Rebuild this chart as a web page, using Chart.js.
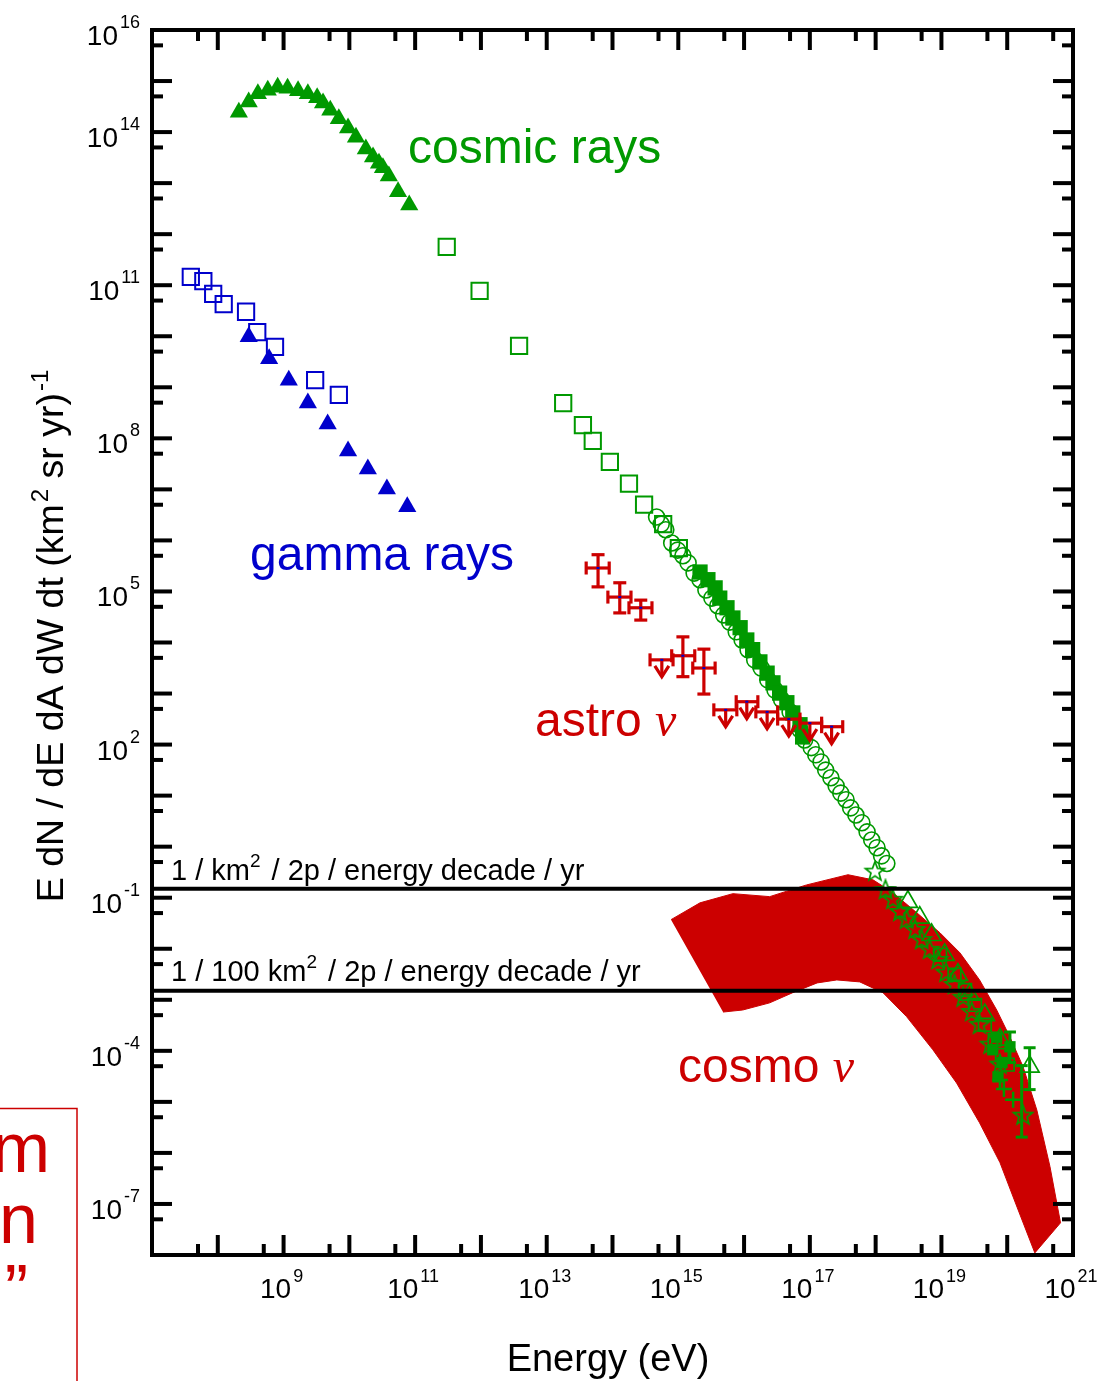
<!DOCTYPE html>
<html><head><meta charset="utf-8">
<script src="https://cdn.jsdelivr.net/npm/chart.js@4.4.1/dist/chart.umd.min.js"></script>
<style>html,body{margin:0;padding:0;background:#fff;}#wrap{position:relative;width:1100px;height:1381px;}</style>
</head><body><div id="wrap"><canvas id="c"></canvas></div>
<script>
// ---------- tick labels ----------
const xTickExps = [9, 11, 13, 15, 17, 19, 21];
const yTickExps = [16, 14, 11, 8, 5, 2, -1, -4, -7];

// ---------- cosmic rays (low energy, filled triangles) ----------
const crTriE = [2.09e8, 2.95e8, 4.07e8, 5.75e8, 8.13e8, 1.15e9, 1.66e9, 2.34e9, 3.24e9, 3.98e9, 5.13e9, 6.92e9, 9.55e9, 1.26e10, 1.78e10, 2.29e10, 2.82e10, 3.24e10, 3.98e10, 5.50e10, 8.13e10];
const crTriF = [2.45e14, 3.89e14, 5.62e14, 6.61e14, 7.59e14, 7.24e14, 6.46e14, 5.62e14, 4.68e14, 3.72e14, 2.69e14, 1.82e14, 1.20e14, 7.94e13, 4.68e13, 3.24e13, 2.45e13, 2.00e13, 1.38e13, 6.76e12, 3.72e12];
// open squares
const crSqE = [3.02e11, 9.55e11, 3.80e12, 1.78e13, 3.55e13, 5.01e13, 9.12e13, 1.78e14, 3.02e14, 5.89e14, 1.02e15];
const crSqF = [5.62e11, 7.76e10, 6.46e9, 4.90e8, 1.82e8, 8.91e7, 3.47e7, 1.29e7, 5.01e6, 2.09e6, 7.08e5];
// open circles
const crCircE = [4.68e14, 5.50e14, 6.46e14, 7.94e14, 9.77e14, 1.175e15, 1.41e15, 1.74e15, 2.14e15, 2.63e15, 3.24e15, 3.98e15, 4.90e15, 6.03e15, 7.59e15, 9.33e15, 1.15e16, 1.45e16, 1.82e16, 2.29e16, 2.95e16, 3.72e16, 5.01e16, 7.08e16, 8.32e16, 1.05e17, 1.23e17, 1.48e17, 1.74e17, 2.09e17, 2.51e17, 2.95e17, 3.55e17, 4.17e17, 5.01e17, 6.17e17, 7.41e17, 8.71e17, 1.05e18, 1.23e18, 1.48e18];
const crCircF = [2.88e6, 2.09e6, 1.62e6, 8.91e5, 6.46e5, 5.01e5, 3.63e5, 2.29e5, 1.70e5, 1.07e5, 7.41e4, 5.25e4, 3.47e4, 2.51e4, 1.62e4, 1.12e4, 7.24e3, 4.57e3, 3.16e3, 1.86e3, 1.17e3, 759, 437, 195, 123, 87.1, 63.1, 45.7, 31.6, 22.4, 15.5, 11.2, 8.32, 5.75, 4.17, 2.95, 1.95, 1.35, 0.955, 0.661, 0.468];
// filled squares
const crFSqE = [2.14e15, 2.82e15, 3.63e15, 4.27e15, 5.50e15, 6.76e15, 8.71e15, 1.10e16, 1.35e16, 1.74e16, 2.24e16, 2.75e16, 3.47e16, 4.47e16, 5.50e16, 7.08e16, 7.76e16];
const crFSqF = [2.40e5, 1.70e5, 1.175e5, 7.41e4, 4.79e4, 3.02e4, 1.95e4, 1.12e4, 7.24e3, 4.17e3, 2.51e3, 1.62e3, 1.02e3, 661, 417, 245, 141];
// highest energies
const uhStarE = [9.77e17, 1.41e18, 1.82e18, 2.34e18, 2.95e18, 3.98e18, 5.01e18, 6.61e18, 8.91e18, 1.175e19, 1.58e19, 2.14e19, 2.88e19, 3.80e19, 5.50e19, 7.76e19, 1.74e20];
const uhStarF = [0.324, 0.141, 9.12e-2, 5.25e-2, 3.72e-2, 2.34e-2, 1.48e-2, 9.55e-3, 6.03e-3, 3.39e-3, 1.95e-3, 1.10e-3, 5.75e-4, 3.24e-4, 1.32e-4, 5.37e-5, 5.37e-6];
const uhTriE = [3.09e18, 4.68e18, 7.08e18, 1.12e19, 1.78e19, 2.69e19, 4.57e19, 7.76e19, 2.19e20];
const uhTriF = [8.32e-2, 4.07e-2, 1.86e-2, 7.59e-3, 3.09e-3, 1.26e-3, 5.01e-4, 1.66e-4, 4.90e-5];
const uhSqE = [9.55e18, 1.58e19, 2.29e19, 3.24e19, 4.57e19, 6.46e19, 8.32e19, 1.02e20];
const uhSqF = [7.59e-3, 3.09e-3, 1.55e-3, 7.94e-4, 3.24e-4, 1.66e-4, 8.32e-5, 5.37e-5];
const uhCrossE = [7.76e19, 1.23e20, 8.91e19];
const uhCrossF = [2.69e-5, 1.10e-5, 1.78e-5];
const uhFSqE = [6.92e19, 6.03e19, 8.32e19, 7.24e19, 1.10e20];
const uhFSqF = [1.86e-4, 1.05e-4, 5.89e-5, 3.09e-5, 1.20e-4];
const uhErrE = [1.10e20, 2.19e20, 1.66e20];
const uhErrLo = [5.89e-5, 1.74e-5, 2.04e-6];
const uhErrHi = [2.34e-4, 1.15e-4, 5.13e-5];

// ---------- gamma rays ----------
const gSqE = [3.89e7, 6.03e7, 8.51e7, 1.23e8, 2.69e8, 3.98e8, 7.41e8, 3.02e9, 6.92e9];
const gSqF = [1.45e11, 1.20e11, 6.76e10, 4.27e10, 3.02e10, 1.20e10, 6.17e9, 1.38e9, 7.08e8];
const gTriE = [2.95e8, 6.03e8, 1.20e9, 2.34e9, 4.68e9, 9.55e9, 1.91e10, 3.72e10, 7.59e10];
const gTriF = [9.77e9, 3.63e9, 1.38e9, 4.90e8, 1.91e8, 5.62e7, 2.51e7, 1.02e7, 4.57e6];

// ---------- astro neutrinos ----------
const astroE = [6.03e13, 1.29e14, 2.69e14, 1.175e15, 2.45e15];
const astroF = [2.88e5, 7.76e4, 4.79e4, 5.50e3, 3.16e3];
const astroElo = [3.98e13, 8.51e13, 1.78e14, 7.94e14, 1.66e15];
const astroEhi = [8.91e13, 1.91e14, 3.98e14, 1.78e15, 3.63e15];
const astroFlo = [1.23e5, 3.80e4, 2.75e4, 2.14e3, 977];
const astroFhi = [5.25e5, 1.48e5, 6.76e4, 1.29e4, 7.41e3];
const ulE = [5.62e14, 5.25e15, 1.10e16, 2.24e16, 4.79e16, 1.0e17, 2.14e17];
const ulF = [4.57e3, 479, 692, 437, 316, 263, 224];
const ulElo = [3.72e14, 3.47e15, 7.59e15, 1.51e16, 3.24e16, 7.08e16, 1.51e17];
const ulEhi = [8.32e14, 7.76e15, 1.62e16, 3.24e16, 7.08e16, 1.51e17, 3.16e17];

// ---------- cosmogenic neutrino band ----------
const bandUpE = [7.76e14, 2.14e15, 6.76e15, 2.45e16, 8.91e16, 3.80e17, 9.12e17, 1.82e18, 4.27e18, 9.55e18, 1.91e19, 3.80e19, 6.92e19, 1.10e20, 1.74e20, 2.82e20, 4.47e20, 6.46e20];
const bandUpF = [3.72e-2, 7.94e-2, 0.120, 0.105, 0.178, 0.282, 0.224, 0.126, 5.01e-2, 2.04e-2, 8.32e-3, 2.45e-3, 6.31e-4, 1.86e-4, 4.90e-5, 6.92e-6, 5.37e-7, 4.27e-8];
const bandLoE = [2.63e20, 1.41e20, 7.76e19, 3.80e19, 1.70e19, 7.41e18, 2.95e18, 1.29e18, 5.75e17, 2.57e17, 1.29e17, 5.50e16, 2.45e16, 9.55e15, 4.79e15];
const bandLoF = [1.10e-8, 8.71e-8, 6.46e-7, 3.89e-6, 2.34e-5, 1.05e-4, 4.68e-4, 1.38e-3, 2.24e-3, 2.45e-3, 2.14e-3, 1.38e-3, 8.71e-4, 6.31e-4, 5.75e-4];

// ---------- reference rate lines ----------
const rateLineE = [1e7, 1e21];
const rate1km2 = [0.15, 0.15];
const rate100km2 = [0.0015, 0.0015];

// ================= build =================
const GREEN = '#009900', BLUE = '#0000CC', RED = '#CC0000';
const FONT = '"Liberation Sans", Arial, sans-serif';
function pts(xs, ys) { return xs.map((x, i) => ({ x: x, y: ys[i] })); }
function makeStar(r, color) {
  const c = document.createElement('canvas');
  const s = Math.ceil(r * 2 + 4); c.width = s; c.height = s;
  const g = c.getContext('2d');
  g.strokeStyle = color; g.lineWidth = 1.7; g.beginPath();
  for (let i = 0; i < 10; i++) {
    const a = -Math.PI / 2 + i * Math.PI / 5, rr = (i % 2) ? r * 0.42 : r;
    g.lineTo(s / 2 + rr * Math.cos(a), s / 2 + rr * Math.sin(a));
  }
  g.closePath(); g.stroke(); return c;
}
const starImg = makeStar(10, GREEN);
const none = 'rgba(0,0,0,0)';

const datasets = [
  { data: pts(rateLineE, rate1km2), showLine: true, borderColor: '#000', borderWidth: 4, pointRadius: 0 },
  { data: pts(rateLineE, rate100km2), showLine: true, borderColor: '#000', borderWidth: 4, pointRadius: 0 },
  { data: pts(gTriE, gTriF), pointStyle: 'triangle', pointRadius: 10.5, backgroundColor: BLUE, borderColor: BLUE, borderWidth: 0 },
  { data: pts(gSqE, gSqF), pointStyle: 'rect', pointRadius: 11.5, backgroundColor: none, borderColor: BLUE, borderWidth: 2 },
  { data: pts(uhCrossE, uhCrossF), pointStyle: 'cross', pointRadius: 8, borderColor: GREEN, borderWidth: 2.5 },
  { data: pts(uhFSqE, uhFSqF), pointStyle: 'rect', pointRadius: 8, backgroundColor: GREEN, borderColor: GREEN, borderWidth: 0 },
  { data: pts(uhSqE, uhSqF), pointStyle: 'rect', pointRadius: 9, backgroundColor: none, borderColor: GREEN, borderWidth: 1.7 },
  { data: pts(uhTriE, uhTriF), pointStyle: 'triangle', pointRadius: 11, backgroundColor: none, borderColor: GREEN, borderWidth: 1.7 },
  { data: pts(uhStarE, uhStarF), pointStyle: starImg, pointRadius: 10 },
  { data: pts(crFSqE, crFSqF), pointStyle: 'rect', pointRadius: 10.8, backgroundColor: GREEN, borderColor: GREEN, borderWidth: 0 },
  { data: pts(crCircE, crCircF), pointStyle: 'circle', pointRadius: 8, backgroundColor: none, borderColor: GREEN, borderWidth: 1.6 },
  { data: pts(crSqE, crSqF), pointStyle: 'rect', pointRadius: 11.5, backgroundColor: none, borderColor: GREEN, borderWidth: 2 },
  { data: pts(crTriE, crTriF), pointStyle: 'triangle', pointRadius: 10.5, backgroundColor: GREEN, borderColor: GREEN, borderWidth: 0 },
  { data: pts(bandUpE.concat(bandLoE), bandUpF.concat(bandLoF)), showLine: true, fill: 'shape', tension: 0,
    backgroundColor: RED, borderColor: RED, borderWidth: 1, pointRadius: 0 }
];

function line(ctx, x1, y1, x2, y2) { ctx.beginPath(); ctx.moveTo(x1, y1); ctx.lineTo(x2, y2); ctx.stroke(); }

const deco = {
  id: 'deco',
  afterDatasetsDraw(chart) {
    const ctx = chart.ctx, X = chart.scales.x, Y = chart.scales.y;
    ctx.save();
    ctx.lineCap = 'butt';
    // green error bars at highest energies
    ctx.strokeStyle = GREEN; ctx.lineWidth = 3;
    uhErrE.forEach((e, i) => {
      const px = X.getPixelForValue(e), p1 = Y.getPixelForValue(uhErrLo[i]), p2 = Y.getPixelForValue(uhErrHi[i]);
      line(ctx, px, p1, px, p2); line(ctx, px - 6, p1, px + 6, p1); line(ctx, px - 6, p2, px + 6, p2);
    });
    // astro neutrino measurements
    ctx.strokeStyle = RED; ctx.lineWidth = 3.2;
    astroE.forEach((e, i) => {
      const px = X.getPixelForValue(e), py = Y.getPixelForValue(astroF[i]);
      const xl = X.getPixelForValue(astroElo[i]), xh = X.getPixelForValue(astroEhi[i]);
      const yl = Y.getPixelForValue(astroFlo[i]), yh = Y.getPixelForValue(astroFhi[i]);
      line(ctx, xl, py, xh, py); line(ctx, xl, py - 6.5, xl, py + 6.5); line(ctx, xh, py - 6.5, xh, py + 6.5);
      line(ctx, px, yl, px, yh); line(ctx, px - 6.5, yl, px + 6.5, yl); line(ctx, px - 6.5, yh, px + 6.5, yh);
    });
    ulE.forEach((e, i) => {
      const px = X.getPixelForValue(e), py = Y.getPixelForValue(ulF[i]);
      const xl = X.getPixelForValue(ulElo[i]), xh = X.getPixelForValue(ulEhi[i]);
      line(ctx, xl, py, xh, py); line(ctx, xl, py - 6.5, xl, py + 6.5); line(ctx, xh, py - 6.5, xh, py + 6.5);
      line(ctx, px, py, px, py + 17);
      ctx.beginPath(); ctx.moveTo(px - 7, py + 6); ctx.lineTo(px, py + 17); ctx.lineTo(px + 7, py + 6); ctx.stroke();
    });
    ctx.fillStyle = BLUE;
    astroE.concat(ulE).forEach((e, i) => {
      const f = i < astroE.length ? astroF[i] : ulF[i - astroE.length];
      ctx.fillRect(X.getPixelForValue(e) - 1.5, Y.getPixelForValue(f) - 1, 3, 2);
    });
    ctx.restore();
  },
  afterDraw(chart) {
    const ctx = chart.ctx, X = chart.scales.x, Y = chart.scales.y, a = chart.chartArea;
    ctx.save();
    // ticks (inward, all four sides)
    ctx.strokeStyle = '#000'; ctx.lineWidth = 4; ctx.lineCap = 'butt';
    for (let e = 7; e <= 21; e++) {
      [1, 5].forEach(m => {
        const v = m * Math.pow(10, e);
        if (v > 1.0001e21) return;
        const px = X.getPixelForValue(v), L = m === 1 ? 20 : 11;
        line(ctx, px, a.bottom, px, a.bottom - L); line(ctx, px, a.top, px, a.top + L);
      });
    }
    for (let e = -8; e <= 16; e++) {
      [1, 5].forEach(m => {
        const v = m * Math.pow(10, e);
        if (v > 1.0001e16) return;
        const py = Y.getPixelForValue(v), L = m === 1 ? 20 : 11;
        line(ctx, a.left, py, a.left + L, py); line(ctx, a.right, py, a.right - L, py);
      });
    }
    // frame
    ctx.lineWidth = 4; ctx.lineJoin = 'miter';
    ctx.strokeRect(a.left, a.top, a.right - a.left, a.bottom - a.top);

    // tick labels
    ctx.fillStyle = '#000'; ctx.textBaseline = 'alphabetic';
    const mainF = '28px ' + FONT, supF = '18px ' + FONT;
    yTickExps.forEach(e => {
      const py = Y.getPixelForValue(Math.pow(10, e));
      const s = String(e);
      ctx.font = supF; const ws = ctx.measureText(s).width;
      ctx.textAlign = 'left';
      const right = 140;
      ctx.fillText(s, right - ws, py - 2);
      ctx.font = mainF; const wb = ctx.measureText('10').width;
      ctx.fillText('10', right - ws - 2 - wb, py + 15);
    });
    xTickExps.forEach(e => {
      const px = X.getPixelForValue(Math.pow(10, e));
      const s = String(e);
      ctx.font = supF; const ws = ctx.measureText(s).width;
      ctx.font = mainF; const wb = ctx.measureText('10').width;
      const start = px - 2 - (wb + ws + 2) / 2;
      ctx.textAlign = 'left';
      ctx.fillText('10', start, 1298);
      ctx.font = supF; ctx.fillText(s, start + wb + 2, 1282);
    });

    // axis titles
    ctx.font = '38px ' + FONT; ctx.textAlign = 'center';
    ctx.fillText('Energy (eV)', 608, 1371);
    // y title with superscripts, rotated
    ctx.save();
    ctx.translate(63, 636); ctx.rotate(-Math.PI / 2);
    const tParts = [['E dN / dE dA dW dt (km', false], ['2', true], [' sr yr)', false], ['-1', true]];
    const bigF = '37.5px ' + FONT, smF = '24px ' + FONT;
    let tw = 0;
    tParts.forEach(p => { ctx.font = p[1] ? smF : bigF; tw += ctx.measureText(p[0]).width + (p[1] ? 2 : 0); });
    let cx = -tw / 2; ctx.textAlign = 'left';
    tParts.forEach(p => {
      ctx.font = p[1] ? smF : bigF;
      if (p[1]) cx += 2;
      ctx.fillText(p[0], cx, p[1] ? -15 : 0);
      cx += ctx.measureText(p[0]).width;
    });
    ctx.restore();

    // rate line captions
    function supText(parts, x, y, size) {
      let cx2 = x; ctx.textAlign = 'left';
      parts.forEach(p => {
        ctx.font = (p[1] ? Math.round(size * 0.64) : size) + 'px ' + FONT;
        ctx.fillText(p[0], cx2, p[1] ? y - 13 : y);
        cx2 += ctx.measureText(p[0]).width + (p[1] ? 3 : 0);
      });
    }
    ctx.fillStyle = '#000';
    supText([['1 / km', false], ['2', true], [' / 2p / energy decade / yr', false]], 171, 880, 29);
    supText([['1 / 100 km', false], ['2', true], [' / 2p / energy decade / yr', false]], 171, 981, 29);

    // series captions
    function caption(txt, nu, x, y, color) {
      ctx.fillStyle = color; ctx.textAlign = 'left';
      ctx.font = '48px ' + FONT; ctx.fillText(txt, x, y);
      if (nu) { const w = ctx.measureText(txt).width; ctx.font = 'italic 48px "Liberation Serif", serif'; ctx.fillText('\u03BD', x + w, y); }
    }
    caption('cosmic rays', false, 408, 163, GREEN);
    caption('gamma rays', false, 250, 570, BLUE);
    caption('astro ', true, 535, 736, RED);
    caption('cosmo ', true, 678, 1082, RED);

    // partially visible box at lower left
    ctx.strokeStyle = RED; ctx.lineWidth = 1.5;
    ctx.strokeRect(-10, 1108.5, 87, 320);
    ctx.fillStyle = RED; ctx.textAlign = 'right'; ctx.font = '70px ' + FONT;
    ctx.fillText('m', 50, 1172);
    ctx.fillText('n', 38, 1243);
    ctx.fillText('\u201D', 28, 1314);
    ctx.restore();
  }
};

new Chart(document.getElementById('c'), {
  type: 'scatter',
  data: { datasets: datasets },
  options: {
    responsive: true, maintainAspectRatio: false, animation: false,
    layout: { padding: { left: 152, top: 30, right: 27, bottom: 126 } },
    scales: {
      x: { type: 'logarithmic', min: 1e7, max: 1e21, display: false },
      y: { type: 'logarithmic', min: 1e-8, max: 1e16, display: false }
    },
    plugins: { legend: { display: false }, tooltip: { enabled: false } },
    events: []
  },
  plugins: [deco]
});
</script></body></html>
